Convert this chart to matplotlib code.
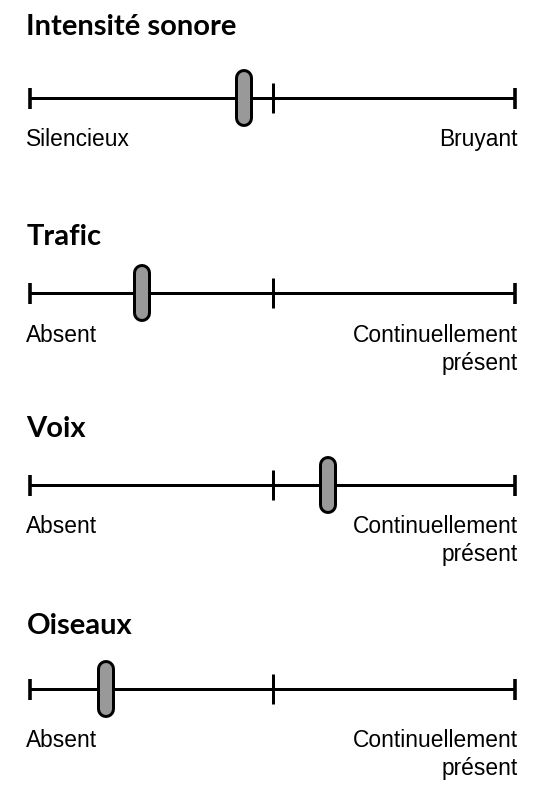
import matplotlib.pyplot as plt

# four semantic scales, slider position read on a 0-100 scale
titles = ['Intensité sonore', 'Trafic', 'Voix', 'Oiseaux']
left_labels = ['Silencieux', 'Absent', 'Absent', 'Absent']
right_labels = ['Bruyant', 'Continuellement\nprésent',
                'Continuellement\nprésent', 'Continuellement\nprésent']
values = [44.2, 23.0, 61.4, 15.5]
scale_min, scale_mid, scale_max = 0, 50, 100

W, H = 537, 796
# layout in pixels from the top of the picture
line_y = [98, 293, 485, 689]
title_y = [35, 245, 437, 634]
label_y = [146, 342, 533, 747]
line_gap = 28
x0, x1 = 30.5, 514.5   # pixel ends of the scale lines


def pt(px):
    return px * 72 / 100


fig = plt.figure(figsize=(W / 100, H / 100), dpi=100)
ax = fig.add_axes([0, 0, 1, 1])
span = x1 - x0
ax.set_xlim(-x0 / span * 100, (W - x0) / span * 100)
ax.set_ylim(H, 0)
ax.axis('off')

title_font = dict(family=['Lato', 'DejaVu Sans'], weight='bold', size=21)
label_font = dict(family=['Liberation Sans', 'DejaVu Sans'], size=16.4)

for i in range(len(titles)):
    y = line_y[i]
    ax.plot([scale_min, scale_max], [y, y], color='black', lw=pt(3),
            solid_capstyle='butt')
    ax.vlines([scale_min, scale_max], y - 10.5, y + 10.5, color='black', lw=pt(3.6))
    ax.vlines([scale_mid], y - 15, y + 15, color='black', lw=pt(3))

    # the slider: rounded grey bar with black outline
    v = values[i]
    ax.plot([v, v], [y - 20, y + 20], color='black', lw=pt(18),
            solid_capstyle='round', zorder=3)
    ax.plot([v, v], [y - 20, y + 20], color='#999999', lw=pt(12),
            solid_capstyle='round', zorder=4)

    ax.annotate(titles[i], xy=(scale_min, title_y[i]), xytext=(-4, 0),
                textcoords='offset pixels', ha='left', va='baseline', **title_font)
    ax.annotate(left_labels[i], xy=(scale_min, label_y[i]), xytext=(-5, 0),
                textcoords='offset pixels', ha='left', va='baseline', **label_font)
    for k, part in enumerate(right_labels[i].split('\n')):
        ax.annotate(part, xy=(scale_max, label_y[i]), xytext=(3, -k * line_gap),
                    textcoords='offset pixels', ha='right', va='baseline',
                    **label_font)

fig.savefig('out.png', dpi=100)
